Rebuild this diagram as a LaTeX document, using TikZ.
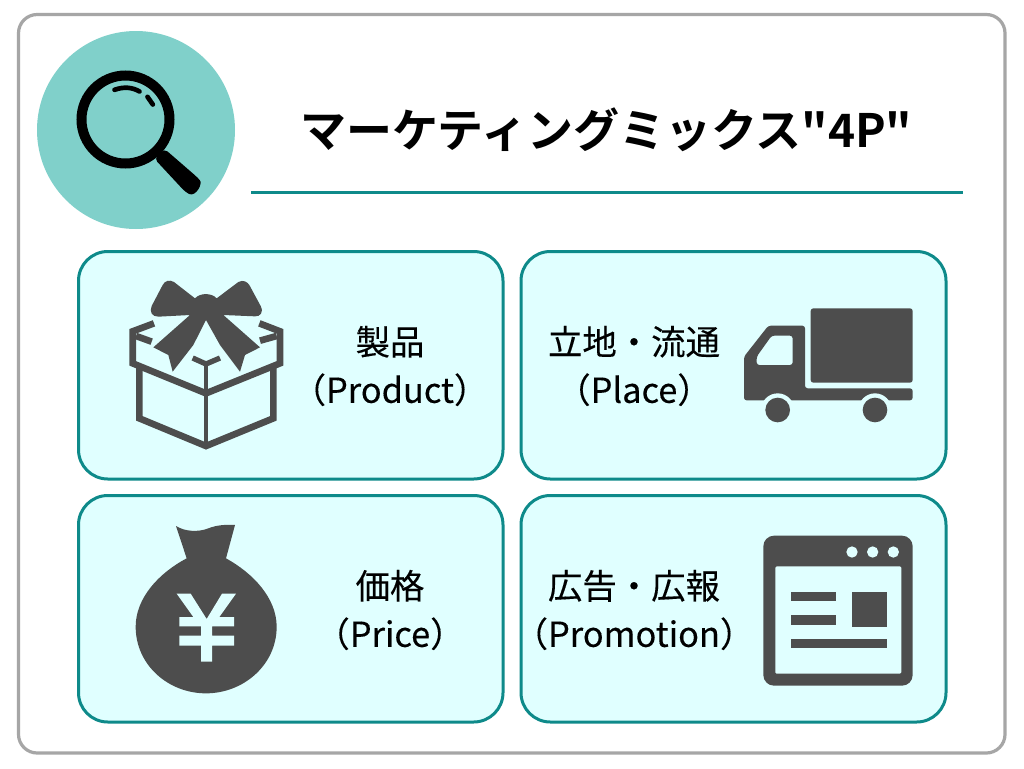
\documentclass[tikz,border=0pt]{standalone}
\usepackage{fontspec}
\setmainfont{Noto Sans CJK JP}
\newfontfamily\jpbody[FakeBold=0.25]{Noto Sans CJK JP}
\newfontfamily\jptitle[BoldFont={Noto Sans CJK JP Bold}]{Noto Sans CJK JP}
\definecolor{frameg}{HTML}{A6A6A6}
\definecolor{teal1}{HTML}{0E8A8A}
\definecolor{cardbg}{HTML}{E0FFFF}
\definecolor{iconc}{HTML}{4D4D4D}
\definecolor{discc}{HTML}{80D0CA}
\tikzset{
  card/.style={draw=teal1,fill=cardbg,line width=2.25pt,rounded corners=22pt},
  cardtext/.style={align=center,inner sep=0pt,font=\jpbody\fontsize{25.8}{36}\selectfont,text=black},
  iconfill/.style={fill=iconc,draw=none},
  iconline/.style={draw=iconc,line width=5pt,line join=miter},
  bgfill/.style={fill=cardbg,draw=none},
  zoomed/.style={x=0.25pt,y=-0.25pt},
}
\begin{document}
\begin{tikzpicture}[x=0.75pt,y=-0.75pt]
\useasboundingbox (0,0) rectangle (1024,768);
\fill[white] (0,0) rectangle (1024,768);
\draw[frameg,line width=2.4pt,fill=white,rounded corners=14pt] (18.5,14.5) rectangle (1005,753);
% header
\fill[discc] (136,130) circle (99);
\begin{scope}[shift={(30.5,20.5)},zoomed]
  \draw[black,line width=7.5pt] (285,297) circle (132);
  \fill[black,rounded corners=3pt] (372,415) -- (402,385) -- (500,470) .. controls (518,490) and (495,530) .. (465,515) -- cycle;
  \draw[black,line width=3.5pt,line cap=round] (252,208) .. controls (280,198) and (305,200) .. (327,213);
  \draw[black,line width=3.5pt,line cap=round] (351,229) -- (367,252);
\end{scope}
\node[inner sep=0pt,font=\jptitle\fontsize{34.5}{40}\bfseries\selectfont] (title) at (606.5,130) {マーケティングミックス"4P"};
\coordinate (ruleL) at (251,192.5);
\coordinate (ruleR) at (963,192.5);
\draw[teal1,line width=1.9pt] (ruleL) -- (ruleR);
% cards
\draw[card] (78.5,251.5) rectangle (503,479);
\draw[card] (521,251.5) rectangle (946,479);
\draw[card] (78.5,495.5) rectangle (503,722);
\draw[card] (521,495.5) rectangle (946,722);
\node[cardtext] (product) at (390,366) {製品\\（Product）};
\node[cardtext] (place) at (634,366) {立地・流通\\（Place）};
\node[cardtext] (price) at (390,610) {価格\\（Price）};
\node[cardtext] (promo) at (634,610) {広告・広報\\（Promotion）};
% gift
\begin{scope}[shift={(110,270)},zoomed]
  \draw[iconline] (132,160) -- (68,184) -- (68,280) -- (288,370) -- (510,280) -- (510,184) -- (448,160);
  \draw[iconline] (78,198) -- (125,215);
  \draw[iconline] (500,198) -- (450,212);
  \draw[iconline] (88,285) -- (88,445) -- (288,528) -- (490,445) -- (490,285);
  \draw[iconline,line width=3.5pt] (288,280) -- (288,530);
  \draw[iconline,line width=4pt] (248,264) -- (288,282) -- (330,264);
  \fill[bgfill] (130,232) -- (175,255) -- (188,318) -- (250,225) -- (288,150) -- (330,225) -- (390,318) -- (405,255) -- (450,232) -- (340,135) -- (240,135) -- cycle;
  \fill[iconfill] (255,85) .. controls (270,68) and (305,68) .. (320,85)
    -- (385,36) .. controls (400,28) and (412,36) .. (418,45)
    -- (452,108) .. controls (462,128) and (450,140) .. (435,139)
    -- (340,135) -- (450,232) -- (405,255) -- (390,305) -- (330,225) -- (288,150) -- (250,225) -- (188,305) -- (175,255) -- (130,232) -- (240,135)
    -- (145,140) .. controls (125,140) and (118,125) .. (125,108)
    -- (158,45) .. controls (165,32) and (178,28) .. (192,36) -- cycle;
\end{scope}
% truck
\begin{scope}[shift={(730,295)},zoomed]
  \fill[iconfill,rounded corners=2pt] (242,40) rectangle (548,263);
  \fill[iconfill,even odd rule,rounded corners=2pt]
    (42,185) -- (115,92) -- (225,92) -- (225,280) -- (548,280) -- (548,316) -- (42,316) -- cycle
    (80,185) -- (125,122) -- (188,122) -- (188,210) -- (80,210) -- cycle;
  \fill[bgfill] (143,345) circle (50);
  \fill[bgfill] (435,345) circle (50);
  \fill[iconfill] (143,345) circle (37);
  \fill[iconfill] (435,345) circle (37);
\end{scope}
% bag
\begin{scope}[shift={(120,515)},zoomed]
  \fill[iconfill] (168,33) .. controls (195,50) and (235,52) .. (265,40) .. controls (290,30) and (320,28) .. (345,30)
    -- (318,130) .. controls (400,175) and (470,250) .. (470,335)
    .. controls (470,450) and (370,535) .. (258,535)
    .. controls (145,535) and (47,450) .. (47,335)
    .. controls (47,250) and (115,175) .. (200,130) -- cycle;
  \fill[bgfill] (170,236) -- (212,236) -- (260,312) -- (306,236) -- (348,236) -- (298,306) -- (342,306) -- (342,334) -- (276,334) -- (276,362) -- (342,362) -- (342,392) -- (276,392) -- (276,440) -- (243,440) -- (243,392) -- (178,392) -- (178,362) -- (243,362) -- (243,334) -- (178,334) -- (178,306) -- (220,306) -- cycle;
\end{scope}
% window
\begin{scope}[shift={(750,525)},zoomed]
  \fill[iconfill,rounded corners=8pt] (40,32) rectangle (488,482);
  \fill[bgfill,rounded corners=1pt] (76,124) rectangle (454,446);
  \fill[bgfill] (306,81) circle (17);
  \fill[bgfill] (368,81) circle (17);
  \fill[bgfill] (430,81) circle (17);
  \fill[iconfill] (124,201) rectangle (257,229);
  \fill[iconfill] (124,271) rectangle (257,299);
  \fill[iconfill] (124,341) rectangle (412,369);
  \fill[iconfill] (306,201) rectangle (412,305);
\end{scope}
\end{tikzpicture}
\end{document}
